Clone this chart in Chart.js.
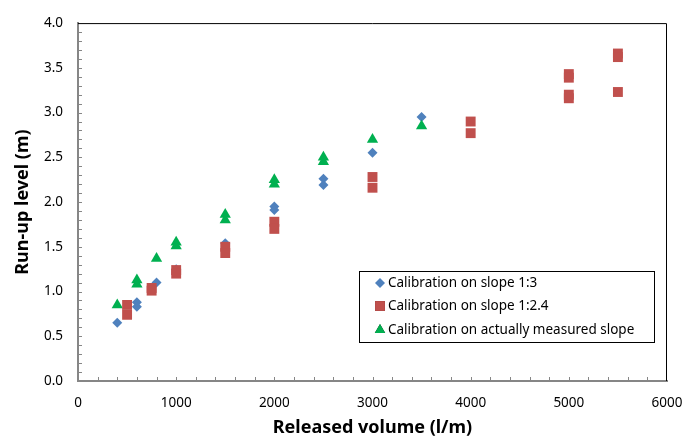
<!DOCTYPE html>
<html>
<head>
<meta charset="utf-8">
<script src="https://cdn.jsdelivr.net/npm/chart.js@4.4.0/dist/chart.umd.min.js"></script>
<style>
  html, body { margin: 0; padding: 0; background: #fff; }
</style>
</head>
<body>
<canvas id="runupChart" width="685" height="442"></canvas>
<script>
// Run-up level vs released volume
const slope13X = [400, 600, 600, 800, 1000, 1500, 2000, 2000, 2500, 2500, 3000, 3500];
const slope13Y = [0.65, 0.88, 0.83, 1.10, 1.25, 1.54, 1.95, 1.91, 2.26, 2.19, 2.55, 2.95];

const slope124X = [500, 500, 750, 750, 1000, 1000, 1500, 1500, 2000, 2000, 3000, 3000,
                   4000, 4000, 5000, 5000, 5000, 5000, 5500, 5500, 5500];
const slope124Y = [0.85, 0.74, 1.04, 1.01, 1.24, 1.20, 1.50, 1.43, 1.78, 1.70, 2.28, 2.16,
                   2.90, 2.77, 3.43, 3.39, 3.20, 3.16, 3.66, 3.62, 3.23];

const measuredX = [400, 600, 600, 800, 1000, 1000, 1500, 1500, 2000, 2000, 2500, 2500, 3000, 3500];
const measuredY = [0.85, 1.13, 1.08, 1.37, 1.55, 1.51, 1.86, 1.80, 2.25, 2.20, 2.50, 2.45, 2.70, 2.85];

const seriesLabels = [
    'Calibration on slope 1:3',
    'Calibration on slope 1:2.4',
    'Calibration on actually measured slope'
];

const xTitle = 'Released volume (l/m)';
const yTitle = 'Run-up level (m)';

const axisGray = '#868686';
const fontFamily = '"Noto Sans", sans-serif';

function toPoints(xs, ys) {
    return xs.map((x, i) => ({ x: x, y: ys[i] }));
}

// inward minor ticks, top/right frame, axis titles and the boxed legend
const decorations = {
    id: 'decorations',
    afterDraw(chart) {
        const ctx = chart.ctx;
        const area = chart.chartArea;
        const xs = chart.scales.x;
        const ys = chart.scales.y;

        ctx.save();
        // frame on top and right
        ctx.strokeStyle = '#000';
        ctx.lineWidth = 1;
        ctx.beginPath();
        ctx.moveTo(area.left, area.top + 0.5);
        ctx.lineTo(area.right - 0.5, area.top + 0.5);
        ctx.lineTo(area.right - 0.5, area.bottom);
        ctx.stroke();

        // small inward ticks
        ctx.strokeStyle = axisGray;
        ctx.beginPath();
        for (let v = 200; v < 6000; v += 200) {
            const px = Math.round(xs.getPixelForValue(v)) + 0.5;
            ctx.moveTo(px, area.bottom);
            ctx.lineTo(px, area.bottom - 4);
        }
        for (let k = 1; k < 40; k++) {
            const py = Math.round(ys.getPixelForValue(k / 10)) + 0.5;
            ctx.moveTo(area.left, py);
            ctx.lineTo(area.left + 4, py);
        }
        ctx.stroke();

        // axis titles
        ctx.fillStyle = '#000';
        ctx.font = 'bold 18px ' + fontFamily;
        ctx.textAlign = 'center';
        ctx.textBaseline = 'middle';
        ctx.fillText(xTitle, (area.left + area.right) / 2, 428);
        ctx.translate(23, (area.top + area.bottom) / 2);
        ctx.rotate(-Math.PI / 2);
        ctx.fillText(yTitle, 0, 0);
        ctx.restore();

        // legend box
        ctx.save();
        const box = { left: 359, top: 271, right: 654, bottom: 342 };
        ctx.fillStyle = '#fff';
        ctx.fillRect(box.left, box.top, box.right - box.left, box.bottom - box.top);
        ctx.strokeStyle = '#000';
        ctx.lineWidth = 1;
        ctx.strokeRect(box.left + 0.5, box.top + 0.5, box.right - box.left, box.bottom - box.top);
        ctx.font = '13.5px ' + fontFamily;
        ctx.textAlign = 'left';
        ctx.textBaseline = 'middle';
        const rows = [283, 306, 330];
        chart.data.datasets.forEach((ds, i) => {
            Chart.helpers.drawPoint(ctx, {
                pointStyle: ds.pointStyle,
                radius: ds.legendRadius,
                borderWidth: 0
            }, 380, rows[i]);
            ctx.fillStyle = ds.backgroundColor;
            ctx.fill();
            ctx.fillStyle = '#000';
            ctx.fillText(ds.label, 388, rows[i]);
        });
        ctx.restore();
    }
};

const ctx = document.getElementById('runupChart').getContext('2d');
const runupChart = new Chart(ctx, {
    type: 'scatter',
    data: {
        datasets: [
            {
                label: seriesLabels[0],
                data: toPoints(slope13X, slope13Y),
                pointStyle: 'rectRot',
                pointRadius: 5,
                legendRadius: 5,
                backgroundColor: '#4F81BD',
                borderColor: '#4F81BD',
                borderWidth: 0,
                order: 2
            },
            {
                label: seriesLabels[1],
                data: toPoints(slope124X, slope124Y),
                pointStyle: 'rect',
                pointRadius: 7,
                legendRadius: 7,
                backgroundColor: '#C0504D',
                borderColor: '#C0504D',
                borderWidth: 0,
                order: 0
            },
            {
                label: seriesLabels[2],
                data: toPoints(measuredX, measuredY),
                pointStyle: 'triangle',
                pointRadius: 6.5,
                legendRadius: 6,
                backgroundColor: '#00B050',
                borderColor: '#00B050',
                borderWidth: 0,
                order: 1
            }
        ]
    },
    plugins: [decorations],
    options: {
        responsive: false,
        animation: false,
        layout: {
            padding: { left: 0, right: 18, top: 19, bottom: 0 }
        },
        plugins: {
            legend: { display: false },
            tooltip: { enabled: false }
        },
        scales: {
            x: {
                type: 'linear',
                min: 0,
                max: 6000,
                afterFit: (scale) => {
                    scale.height = 61;
                    scale.paddingLeft = 0;
                    scale.paddingRight = 0;
                },
                grid: { display: false, drawTicks: false },
                border: { display: true, color: axisGray, width: 2 },
                ticks: {
                    stepSize: 1000,
                    padding: 14,
                    color: '#000',
                    font: { family: fontFamily, size: 13.5 },
                    callback: (v) => String(v)
                }
            },
            y: {
                type: 'linear',
                min: 0,
                max: 4,
                afterFit: (scale) => { scale.width = 78; },
                grid: { display: false, drawTicks: false },
                border: { display: true, color: axisGray, width: 2 },
                ticks: {
                    stepSize: 0.5,
                    padding: 15,
                    color: '#000',
                    font: { family: fontFamily, size: 13.5 },
                    callback: (v) => v.toFixed(1)
                }
            }
        }
    }
});
</script>
</body>
</html>
